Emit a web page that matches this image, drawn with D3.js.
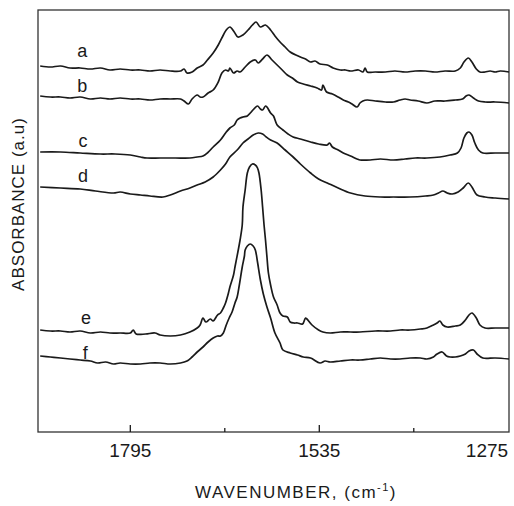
<!DOCTYPE html>
<html>
<head>
<meta charset="utf-8">
<script src="https://cdn.jsdelivr.net/npm/d3@7"></script>
<style>
  body { margin: 0; background: #fff; }
  svg { display: block; font-family: "Liberation Sans", Arial, sans-serif; }
</style>
</head>
<body>
<div id="chart"></div>
<script>
// spectra: [wavenumber (cm-1), absorbance (a.u.)]
const specA = [[1919,3.66],[1905,3.65],[1891,3.66],[1878,3.64],[1864,3.64],[1850,3.63],[1836,3.64],[1823,3.62],[1809,3.63],[1795,3.62],[1781,3.62],[1768,3.61],[1754,3.62],[1740,3.61],[1726,3.61],[1721,3.63],[1717,3.59],[1710,3.60],[1703,3.64],[1695,3.67],[1689,3.72],[1681,3.79],[1674,3.87],[1667,3.97],[1663,4.02],[1658,4.05],[1652,4.00],[1647,3.95],[1640,3.97],[1633,4.02],[1627,4.07],[1622,4.10],[1616,4.05],[1609,4.07],[1602,4.02],[1596,3.96],[1589,3.90],[1582,3.85],[1575,3.80],[1561,3.75],[1554,3.73],[1547,3.70],[1541,3.71],[1534,3.68],[1524,3.67],[1516,3.64],[1506,3.62],[1499,3.62],[1492,3.61],[1481,3.62],[1475,3.60],[1472,3.64],[1469,3.60],[1458,3.60],[1444,3.60],[1431,3.61],[1417,3.60],[1403,3.61],[1389,3.61],[1376,3.60],[1362,3.61],[1348,3.61],[1341,3.64],[1336,3.70],[1330,3.74],[1325,3.70],[1319,3.63],[1314,3.60],[1307,3.60],[1300,3.61],[1293,3.60],[1286,3.61],[1274,3.60]];
const specB = [[1919,3.36],[1905,3.35],[1891,3.35],[1878,3.34],[1864,3.35],[1850,3.33],[1836,3.34],[1823,3.33],[1809,3.34],[1795,3.33],[1781,3.33],[1768,3.32],[1754,3.33],[1740,3.33],[1726,3.33],[1721,3.31],[1715,3.28],[1710,3.33],[1703,3.37],[1699,3.35],[1695,3.35],[1688,3.39],[1681,3.42],[1674,3.50],[1669,3.59],[1664,3.62],[1660,3.61],[1658,3.64],[1653,3.59],[1648,3.61],[1644,3.60],[1637,3.65],[1630,3.70],[1623,3.72],[1619,3.69],[1613,3.73],[1607,3.77],[1600,3.72],[1593,3.67],[1586,3.62],[1579,3.57],[1572,3.54],[1565,3.50],[1557,3.48],[1547,3.46],[1538,3.44],[1532,3.42],[1530,3.47],[1525,3.40],[1517,3.38],[1509,3.35],[1502,3.32],[1495,3.30],[1490,3.28],[1483,3.25],[1479,3.29],[1475,3.31],[1469,3.32],[1458,3.31],[1444,3.30],[1433,3.30],[1424,3.32],[1417,3.33],[1410,3.32],[1399,3.31],[1387,3.29],[1376,3.31],[1362,3.31],[1348,3.32],[1338,3.33],[1333,3.36],[1329,3.37],[1323,3.34],[1316,3.31],[1307,3.30],[1293,3.30],[1274,3.29]];
const specC = [[1919,2.80],[1891,2.80],[1864,2.79],[1836,2.78],[1816,2.78],[1795,2.77],[1781,2.75],[1772,2.74],[1754,2.74],[1733,2.74],[1713,2.74],[1703,2.75],[1695,2.76],[1689,2.79],[1681,2.85],[1671,2.92],[1664,2.99],[1658,3.04],[1652,3.07],[1648,3.12],[1644,3.14],[1640,3.15],[1634,3.16],[1630,3.19],[1625,3.23],[1620,3.26],[1616,3.23],[1613,3.22],[1609,3.26],[1607,3.25],[1602,3.19],[1598,3.16],[1593,3.07],[1585,3.02],[1578,2.98],[1571,2.95],[1561,2.93],[1547,2.90],[1536,2.88],[1524,2.87],[1521,2.89],[1517,2.85],[1509,2.82],[1502,2.79],[1492,2.76],[1483,2.73],[1479,2.72],[1465,2.72],[1451,2.73],[1433,2.72],[1417,2.73],[1403,2.74],[1387,2.74],[1369,2.75],[1355,2.77],[1345,2.79],[1340,2.84],[1336,2.94],[1332,2.99],[1329,3.00],[1325,2.97],[1321,2.89],[1316,2.82],[1310,2.79],[1293,2.79],[1274,2.79]];
const specD = [[1919,2.45],[1891,2.44],[1864,2.43],[1843,2.41],[1818,2.39],[1809,2.40],[1795,2.38],[1781,2.37],[1768,2.36],[1750,2.35],[1740,2.37],[1726,2.41],[1713,2.44],[1703,2.47],[1692,2.50],[1681,2.55],[1671,2.62],[1664,2.68],[1658,2.75],[1648,2.82],[1640,2.89],[1633,2.93],[1626,2.97],[1619,2.99],[1613,2.98],[1608,2.95],[1602,2.92],[1593,2.89],[1582,2.82],[1571,2.75],[1561,2.68],[1547,2.59],[1536,2.53],[1524,2.49],[1509,2.44],[1492,2.39],[1472,2.36],[1451,2.35],[1433,2.35],[1410,2.35],[1389,2.36],[1378,2.37],[1371,2.39],[1365,2.41],[1359,2.39],[1352,2.38],[1344,2.40],[1337,2.44],[1330,2.49],[1325,2.45],[1318,2.37],[1307,2.35],[1293,2.34],[1274,2.33]];
const specE = [[1919,1.02],[1905,1.01],[1891,1.01],[1878,1.00],[1864,1.01],[1850,0.99],[1836,1.00],[1823,0.99],[1809,0.99],[1795,0.99],[1791,1.02],[1787,0.98],[1774,0.98],[1761,0.99],[1754,0.97],[1740,0.96],[1726,0.97],[1713,1.00],[1703,1.04],[1699,1.07],[1695,1.14],[1691,1.10],[1685,1.13],[1681,1.11],[1675,1.17],[1671,1.19],[1667,1.24],[1664,1.29],[1660,1.39],[1658,1.45],[1653,1.57],[1651,1.65],[1647,1.80],[1644,1.92],[1641,2.07],[1640,2.25],[1637,2.42],[1634,2.59],[1631,2.65],[1627,2.68],[1623,2.67],[1620,2.64],[1618,2.59],[1615,2.42],[1613,2.25],[1611,2.07],[1609,1.92],[1607,1.75],[1605,1.59],[1602,1.47],[1598,1.35],[1593,1.27],[1589,1.19],[1585,1.16],[1579,1.15],[1575,1.10],[1570,1.09],[1565,1.09],[1558,1.08],[1554,1.14],[1552,1.13],[1545,1.07],[1536,1.02],[1530,1.00],[1520,0.99],[1506,1.00],[1492,1.00],[1479,1.00],[1458,1.01],[1437,1.01],[1424,1.02],[1410,1.02],[1396,1.03],[1387,1.04],[1378,1.07],[1373,1.09],[1369,1.11],[1365,1.07],[1359,1.05],[1348,1.06],[1341,1.07],[1334,1.12],[1329,1.17],[1325,1.19],[1319,1.14],[1314,1.07],[1307,1.04],[1293,1.04],[1274,1.04]];
const specF = [[1919,0.76],[1905,0.75],[1891,0.74],[1878,0.73],[1864,0.72],[1850,0.71],[1840,0.69],[1829,0.70],[1818,0.68],[1809,0.69],[1795,0.68],[1781,0.68],[1768,0.69],[1754,0.69],[1740,0.68],[1726,0.69],[1717,0.71],[1710,0.75],[1703,0.80],[1695,0.85],[1688,0.90],[1681,0.94],[1675,0.96],[1671,0.96],[1667,0.99],[1663,1.07],[1659,1.14],[1655,1.20],[1651,1.29],[1648,1.35],[1645,1.47],[1641,1.65],[1638,1.76],[1637,1.82],[1634,1.86],[1630,1.88],[1626,1.86],[1623,1.82],[1620,1.70],[1616,1.52],[1612,1.38],[1607,1.25],[1602,1.14],[1596,0.99],[1589,0.89],[1585,0.82],[1575,0.79],[1565,0.77],[1557,0.75],[1547,0.74],[1534,0.69],[1527,0.71],[1520,0.70],[1506,0.71],[1492,0.72],[1479,0.72],[1465,0.73],[1451,0.74],[1437,0.73],[1424,0.73],[1410,0.74],[1396,0.74],[1387,0.73],[1378,0.75],[1373,0.78],[1366,0.80],[1360,0.76],[1355,0.75],[1348,0.75],[1341,0.76],[1334,0.78],[1329,0.81],[1323,0.82],[1318,0.78],[1310,0.74],[1293,0.74],[1274,0.73]];

const traceNames = ["a", "b", "c", "d", "e", "f"];
const traces = [specA, specB, specC, specD, specE, specF];
// where each trace letter sits: [wavenumber, absorbance at text baseline]
const labelPos = [[1861,3.75],[1861,3.40],[1860,2.85],[1860,2.50],[1856,1.08],[1857,0.73]];

const majorTicks = [1795, 1535, 1275];
const minorTicks = [1665, 1405];

const width = 514, height = 506;
const margin = {top: 10, right: 5, bottom: 74, left: 38};

const svg = d3.select("#chart").append("svg")
    .attr("width", width)
    .attr("height", height);

// wavenumber runs high -> low, left to right
const x = d3.scaleLinear()
    .domain([1922, 1274])
    .range([margin.left, width - margin.right]);
const y = d3.scaleLinear()
    .domain([0, 4.22])
    .range([height - margin.bottom, margin.top]);

const ink = "#1a1a1a";

// frame
svg.append("rect")
    .attr("x", margin.left)
    .attr("y", margin.top)
    .attr("width", width - margin.left - margin.right)
    .attr("height", height - margin.top - margin.bottom)
    .attr("fill", "none")
    .attr("stroke", "#333")
    .attr("stroke-width", 1.3);

const bottom = height - margin.bottom;

// ticks point inward, labels below
svg.append("g").selectAll("line.major")
    .data(majorTicks.filter(d => d > 1280))
    .enter().append("line")
    .attr("x1", d => x(d)).attr("x2", d => x(d))
    .attr("y1", bottom).attr("y2", bottom - 7)
    .attr("stroke", ink).attr("stroke-width", 1.3);

svg.append("g").selectAll("line.minor")
    .data(minorTicks)
    .enter().append("line")
    .attr("x1", d => x(d)).attr("x2", d => x(d))
    .attr("y1", bottom).attr("y2", bottom - 4)
    .attr("stroke", ink).attr("stroke-width", 1.3);

svg.append("g").selectAll("text")
    .data(majorTicks)
    .enter().append("text")
    .attr("x", d => Math.min(x(d), width - margin.right - 22))
    .attr("y", bottom + 25)
    .attr("text-anchor", "middle")
    .attr("font-size", 19)
    .attr("fill", ink)
    .text(d => d);

// axis titles
const xt = svg.append("text")
    .attr("x", 296)
    .attr("y", 498)
    .attr("text-anchor", "middle")
    .attr("font-size", 17)
    .attr("letter-spacing", 1.5)
    .attr("fill", ink)
    .text("WAVENUMBER, (cm");
xt.append("tspan").attr("dy", -7).attr("font-size", 11).text("-1");
xt.append("tspan").attr("dy", 7).text(")");

svg.append("text")
    .attr("transform", "translate(24,204) rotate(-90)")
    .attr("text-anchor", "middle")
    .attr("font-size", 17)
    .attr("letter-spacing", 1)
    .attr("fill", ink)
    .text("ABSORBANCE (a.u)");

// spectra
const line = d3.line()
    .x(d => x(d[0]))
    .y(d => y(d[1]))
    .curve(d3.curveCatmullRom.alpha(0.5));

svg.append("g").selectAll("path")
    .data(traces)
    .enter().append("path")
    .attr("d", line)
    .attr("fill", "none")
    .attr("stroke", ink)
    .attr("stroke-width", 1.7)
    .attr("stroke-linejoin", "round");

svg.append("g").selectAll("text")
    .data(traceNames)
    .enter().append("text")
    .attr("x", (d, i) => x(labelPos[i][0]))
    .attr("y", (d, i) => y(labelPos[i][1]))
    .attr("text-anchor", "middle")
    .attr("font-size", 18)
    .attr("fill", ink)
    .text(d => d);
</script>
</body>
</html>
